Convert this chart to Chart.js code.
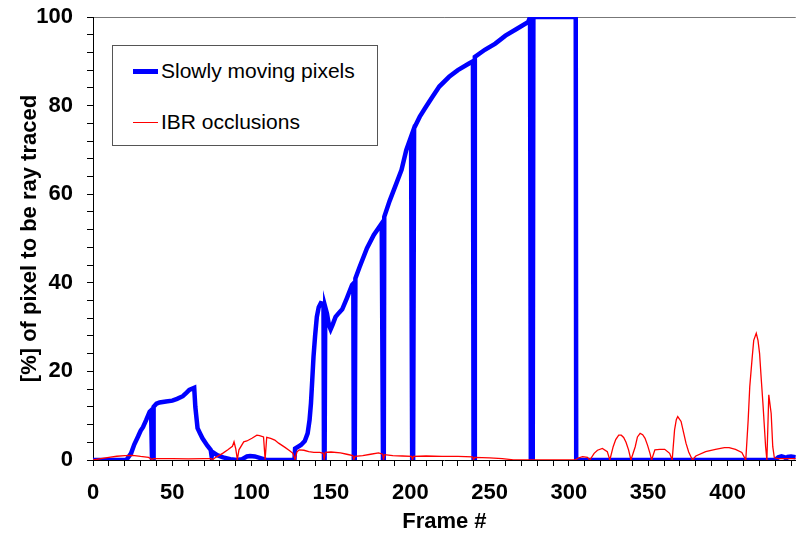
<!DOCTYPE html>
<html>
<head>
<meta charset="utf-8">
<script src="https://cdn.jsdelivr.net/npm/chart.js@4/dist/chart.umd.min.js"></script>
<style>
  html, body { margin: 0; padding: 0; background: #fff; }
  #wrap { position: relative; width: 805px; height: 533px; }
  #legend {
    position: absolute; left: 112px; top: 45px; width: 266px; height: 101px;
    border: 1px solid #555; background: #fff; box-sizing: border-box;
    font: 21px "Liberation Sans", Arial, sans-serif; color: #000;
  }
  #legend .item { position: absolute; left: 20px; display: flex; align-items: center; white-space: nowrap; }
  #legend .swatch { width: 25px; margin-right: 3px; }
</style>
</head>
<body>
<div id="wrap">
  <canvas id="chart" width="805" height="533"></canvas>
  <div id="legend"></div>
</div>
<script>
// Slowly moving pixels (thick blue) vs IBR occlusions (thin red), per frame
const slowFrames = [0, 21, 24, 26, 28.4, 30, 31.5, 33.5, 35.7, 36.6, 37.2, 37.9, 38.2, 40, 42, 46, 50, 53, 56.6, 59, 60.7, 63.8,
  64.5, 65.9, 67.5, 69, 72, 74.2, 74.8, 75.3, 78.3, 82, 86.6, 90.7, 94, 97, 99, 102, 105, 109.2, 127, 127.4, 131.1, 133.5,
  135.3, 136.5, 137.4, 138.2, 139, 140, 141.1, 142.3, 143.6, 144.6, 145.3, 145.6, 146, 146.4, 147.5, 148.7, 149.8, 151,
  152.9, 155, 157.1, 160, 163.3, 164.1, 164.4, 165, 165.4, 168, 172.7, 177, 182, 182.8, 183.3, 183.6, 187, 191.3, 194.5,
  197.5, 200.5, 201.2, 201.8, 202.4, 206, 210, 214, 218.3, 224.5, 230, 237, 239.5, 239.9, 240.3, 240.7, 247, 253.6, 260,
  267, 274.4, 275.5, 276, 277.2, 277.6, 304.3, 304.6, 430, 432, 434, 436, 437, 438, 440, 443];
const slowValues = [0, 0, 1.5, 3.5, 5.3, 6.6, 7.4, 9, 10.9, 11.2, 0, 0, 12, 12.7, 13, 13.2, 13.4, 13.8, 14.4, 15.2, 15.8, 16.3,
  12, 7.2, 6, 4.9, 3.3, 2.3, 0.8, 1.8, 1.1, 0.6, 0.2, 0, 0.2, 0.8, 0.9, 0.8, 0.5, 0, 0, 2.6, 3.4, 4.3,
  6, 9, 12.8, 18, 23.3, 28, 32.3, 34.5, 35.4, 35.3, 34.6, 0, 0, 34.5, 33, 30.5, 29.5, 30.5,
  32.3, 33.2, 34, 36.5, 39.5, 39.8, 0, 0, 41, 43.5, 47.8, 50.8, 53.4, 0, 0, 54.9, 58.5, 62.5, 65.5,
  70, 73, 0, 0, 74.9, 77.5, 79.8, 82, 84.3, 86.5, 88, 89.5, 90, 0, 0, 91, 92.6, 94, 95.8,
  97.3, 98.9, 100, 0, 0, 100, 100, 0, 0, 0.6, 0.8, 0.6, 0.3, 0.7, 0.8, 0.6];

const occFrames = [0, 5, 10, 15, 20, 25, 30, 35, 37.3, 38, 50, 60, 70, 74.5, 75.3, 77, 81.7, 85, 87.9, 88.9, 90, 91, 92, 95,
  97, 100.2, 103.3, 105, 107.5, 108.5, 109.5, 112, 114.6, 117, 120.8, 124, 126, 127.4, 128.5, 130, 133, 136, 139.2, 143,
  145.2, 145.7, 146.5, 150, 156, 160, 163.8, 164.4, 165.2, 170, 175, 180, 182.6, 183.1, 183.8, 189, 195, 200.8, 201.4,
  202, 210, 220, 230, 239.3, 239.9, 240.6, 250, 258, 265, 276, 304, 305.5, 308.6, 311.7, 313.2, 315.9, 318, 321.1, 324.2,
  325.8, 327.9, 329.5, 331.4, 333, 334.5, 336, 337.6, 339.1, 341.8, 343.2, 344.9, 346.5, 348, 349.6, 351.1, 352.1, 354.2,
  357.3, 360.4, 363.5, 365.1, 366.6, 367.7, 368.6, 370.7, 372.3, 373.8, 375.5, 376.9, 377.9, 380, 386.2, 392.4, 398, 401,
  405, 409, 411.5, 413, 414, 415.5, 416.5, 418.1, 419.2, 420.2, 421.3, 422.3, 424, 424.8, 426, 427.5, 428.5, 429.5, 432, 443];
const occValues = [0, 0.3, 0.6, 0.85, 1.0, 1.05, 0.8, 0.6, 0.1, 0.3, 0.3, 0.25, 0.3, 0.3, 0.05, 0.5, 1.5, 2.3, 3.1, 4.1, 2.5, 0.1, 2.3, 4.1,
  4.3, 4.9, 5.6, 5.5, 5.2, 0.1, 5.1, 4.9, 4.5, 3.8, 2.9, 2.1, 1.5, 0.1, 1.8, 2.3, 2.2, 1.9, 1.7, 1.7,
  1.5, 0.1, 1.7, 1.8, 1.6, 1.3, 1.0, 0.1, 0.8, 1.0, 1.3, 1.6, 1.3, 0.1, 1.2, 1.0, 0.9, 0.8, 0.1,
  0.8, 0.9, 0.8, 0.8, 0.7, 0.1, 0.6, 0.5, 0.3, 0.05, 0, 0, 0.4, 0.75, 0.6, 0, 1.5, 2.2, 2.6, 1.9,
  0, 3, 4.6, 5.6, 5.6, 5.1, 4.0, 2.3, 0, 3, 5.2, 6, 5.7, 4.9, 3.3, 1.5, 0, 2.3,
  2.4, 2.4, 1.5, 0, 6.8, 9.1, 9.8, 8.7, 6.2, 3.8, 1.8, 0.75, 0, 0.9, 1.9, 2.4, 2.8, 2.8,
  2.4, 1.7, 0, 9, 16.5, 23, 27, 28.6, 27, 24, 18, 12.8, 3, 0, 14.7, 10.5, 3, 0.5, 0.3, 0.3];

const xMax = 443;
const yTitle = "[%] of pixel to be ray traced";
const xTitle = "Frame #";

const pairs = (xs, ys) => xs.map((x, i) => ({ x, y: ys[i] }));
const tickFont = { family: "'Liberation Sans', Arial, sans-serif", size: 22, weight: "bold" };

const datasets = [
  { label: "Slowly moving pixels", data: pairs(slowFrames, slowValues), borderColor: "#0000ff", borderWidth: 4.5, order: 1 },
  { label: "IBR occlusions", data: pairs(occFrames, occValues), borderColor: "#ff0000", borderWidth: 1.3, order: 0 },
];

const chart = new Chart(document.getElementById("chart"), {
  type: "line",
  data: { datasets },
  options: {
    responsive: false, animation: false,
    layout: { padding: 0 },
    elements: { point: { radius: 0 }, line: { tension: 0 } },
    plugins: { legend: { display: false }, tooltip: { enabled: false } },
    scales: {
      x: {
        type: "linear", min: 0, max: xMax,
        border: { color: "#000", width: 1 },
        grid: { drawOnChartArea: false, tickLength: 6, color: "#000" },
        ticks: { stepSize: 10, autoSkip: false, maxRotation: 0, includeBounds: false, color: "#000", font: tickFont, padding: 14,
          callback: (v) => (v % 50 === 0 ? v : "") },
        title: { display: true, text: xTitle, color: "#000", font: { ...tickFont, lineHeight: 1.05 }, padding: 0 },
        afterFit: (s) => { s.height = 73; },
      },
      y: {
        min: 0, max: 100,
        border: { color: "#000", width: 1 },
        // only the 100 line is drawn across, as a frame on top
        grid: { tickLength: 6, tickColor: "#000", color: (c) => (c.tick && c.tick.value === 100 ? "#777" : "rgba(0,0,0,0)") },
        ticks: { stepSize: 4, autoSkip: false, color: "#000", font: tickFont, padding: 14,
          callback: (v) => (v % 20 === 0 ? v : "") },
        title: { display: true, text: yTitle, color: "#000", font: tickFont, padding: { top: 17, bottom: 0 } },
        afterFit: (s) => { s.width = 93; s.paddingTop = 17; },
      },
    },
  },
});

// legend box inside the plot
const legend = document.getElementById("legend");
datasets.forEach((d, i) => {
  const item = document.createElement("div");
  item.className = "item";
  item.style.top = (i === 0 ? 13 : 64) + "px";
  const sw = document.createElement("span");
  sw.className = "swatch";
  sw.style.height = Math.max(1, Math.round(d.borderWidth)) + "px";
  sw.style.background = d.borderColor;
  const txt = document.createElement("span");
  txt.textContent = d.label;
  item.append(sw, txt);
  legend.appendChild(item);
});
</script>
</body>
</html>
